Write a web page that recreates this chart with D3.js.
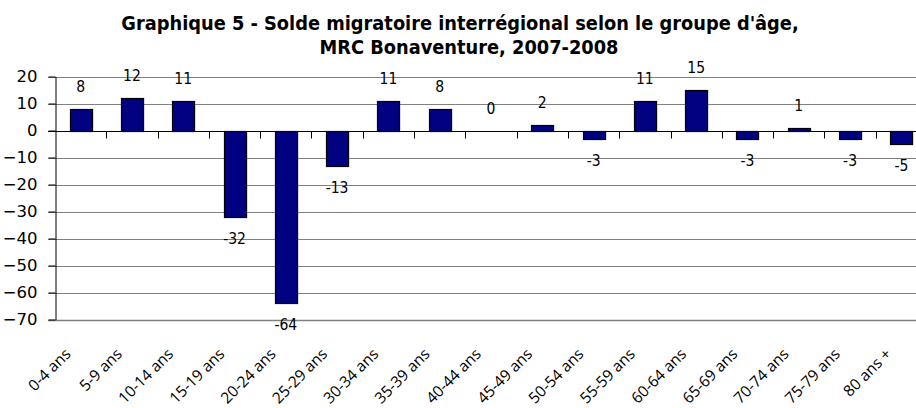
<!DOCTYPE html>
<html>
<head>
<meta charset="utf-8">
<script src="https://cdn.jsdelivr.net/npm/d3@7"></script>
<style>
  body { margin: 0; background: #fff; }
  svg { display: block; }
</style>
</head>
<body>
<svg width="916" height="408"></svg>
<script>
var categories = ["0-4 ans", "5-9 ans", "10-14 ans", "15-19 ans", "20-24 ans", "25-29 ans",
  "30-34 ans", "35-39 ans", "40-44 ans", "45-49 ans", "50-54 ans", "55-59 ans",
  "60-64 ans", "65-69 ans", "70-74 ans", "75-79 ans", "80 ans +"];
var values = [8, 12, 11, -32, -64, -13, 11, 8, 0, 2, -3, 11, 15, -3, 1, -3, -5];
var yTicks = [20, 10, 0, -10, -20, -30, -40, -50, -60, -70];
var titleLines = ["Graphique 5 - Solde migratoire interrégional selon le groupe d'âge,",
  "MRC Bonaventure, 2007-2008"];

var svg = d3.select("svg");

var x = d3.scaleBand()
    .domain(categories)
    .range([55, 927])
    .paddingInner(0.57)
    .paddingOuter(0.285);

var y = d3.scaleLinear()
    .domain([-70, 20])
    .range([319.5, 76.5]);

var gap = (x.step() - x.bandwidth()) / 2;

// title
svg.append("g")
    .selectAll("text")
    .data(titleLines)
  .enter().append("text")
    .attr("x", (d, i) => i == 0 ? 460 : 469)
    .attr("y", (d, i) => 30 + i * 24)
    .attr("text-anchor", "middle")
    .style("font-family", "'DejaVu Sans Condensed', 'DejaVu Sans', sans-serif")
    .style("font-weight", "bold")
    .style("font-size", "19.8px")
    .style("fill", "#000")
    .text(d => d);

// gridlines
svg.append("g")
    .selectAll("line")
    .data(yTicks.filter(d => d != 0))
  .enter().append("line")
    .attr("x1", 48)
    .attr("x2", 927)
    .attr("y1", d => Math.round(y(d)) + 0.5)
    .attr("y2", d => Math.round(y(d)) + 0.5)
    .style("stroke", "#808080")
    .style("stroke-width", d => d == -70 ? 1.5 : 1);

// y axis
var yAxis = svg.append("g")
    .attr("transform", "translate(55.5,0)")
    .call(d3.axisLeft(y).tickValues(yTicks).tickSize(7).tickSizeOuter(0).tickPadding(11));
yAxis.select(".domain").style("stroke", "#000");
yAxis.selectAll(".tick line").style("stroke", "#000");
yAxis.selectAll("text")
    .style("font-family", "'DejaVu Sans', sans-serif")
    .style("font-size", "16.5px")
    .style("fill", "#000");

// bars
svg.append("g")
    .selectAll("rect")
    .data(values)
  .enter().append("rect")
    .attr("x", (d, i) => Math.round(x(categories[i])) + 0.5)
    .attr("width", x.bandwidth())
    .attr("y", d => Math.round(y(Math.max(0, d))) + 0.5)
    .attr("height", d => Math.abs(Math.round(y(d)) - Math.round(y(0))))
    .style("fill", "#000080")
    .style("stroke", "#000")
    .style("stroke-width", 1.2);

// zero line with category ticks
var y0 = Math.round(y(0)) + 0.5;
svg.append("line")
    .attr("x1", 48).attr("x2", 927)
    .attr("y1", y0).attr("y2", y0)
    .style("stroke", "#000");
svg.append("g")
    .selectAll("line")
    .data(categories.slice(1))
  .enter().append("line")
    .attr("x1", d => Math.round(x(d) - gap) + 0.5)
    .attr("x2", d => Math.round(x(d) - gap) + 0.5)
    .attr("y1", y0)
    .attr("y2", y0 + 7)
    .style("stroke", "#000");

// value labels
svg.append("g")
    .selectAll("text")
    .data(values)
  .enter().append("text")
    .attr("x", (d, i) => x(categories[i]) + x.bandwidth() / 2)
    .attr("y", d => d < 0 ? y(d) + 27 : y(d) - 17)
    .attr("text-anchor", "middle")
    .style("font-family", "'DejaVu Sans Condensed', 'DejaVu Sans', sans-serif")
    .style("font-size", "15.5px")
    .style("fill", "#000")
    .text(d => d);

// category labels
svg.append("g")
    .selectAll("text")
    .data(categories)
  .enter().append("text")
    .attr("transform", d => "translate(" + (x(d) + x.bandwidth() / 2 - 9) + ",355) rotate(-45)")
    .attr("text-anchor", "end")
    .style("font-family", "'Open Sans', sans-serif")
    .style("font-size", "15.5px")
    .style("fill", "#000")
    .text(d => d);
</script>
</body>
</html>
